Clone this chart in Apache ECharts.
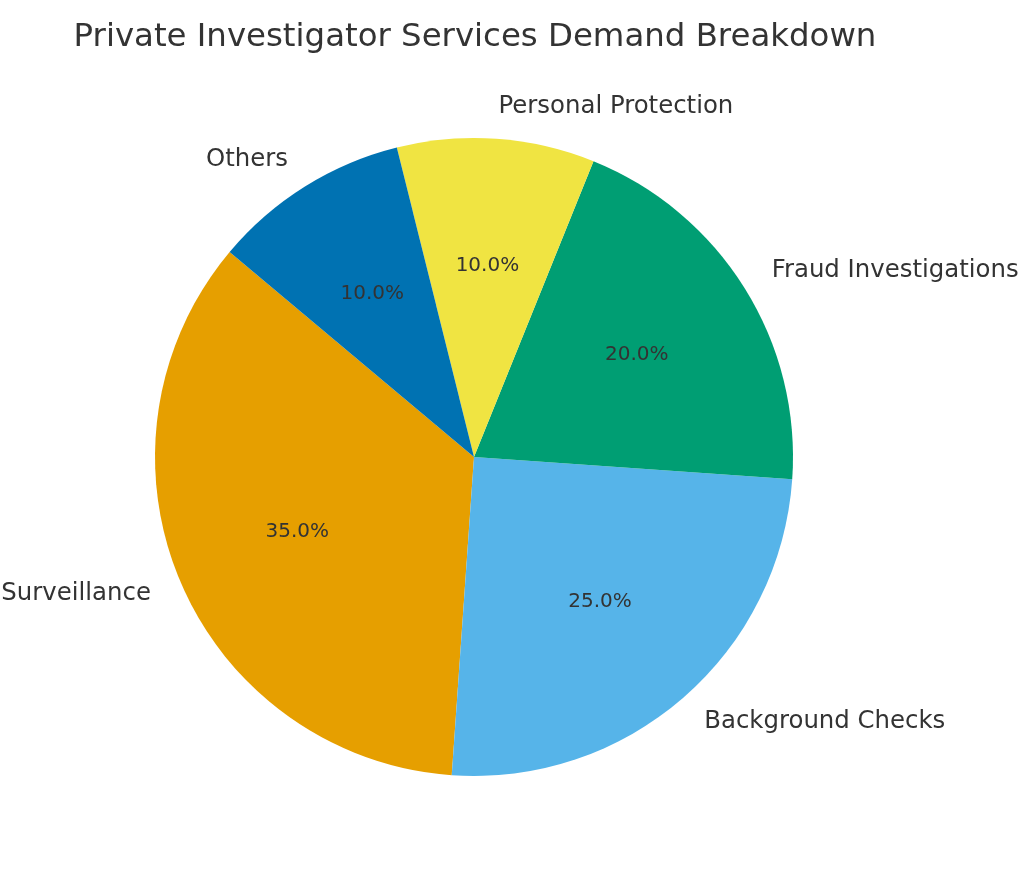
<!DOCTYPE html>
<html>
<head>
<meta charset="utf-8">
<script src="https://cdn.jsdelivr.net/npm/echarts@6/dist/echarts.min.js"></script>
<style>html,body{margin:0;padding:0;background:#fff;}#c{width:1024px;height:878px;}</style>
</head>
<body>
<div id="c"></div>
<script>
const categories = ['Surveillance', 'Background Checks', 'Fraud Investigations', 'Personal Protection', 'Others'];
const values = [35, 25, 20, 10, 10];
const colors = ['#E69F00', '#56B4E9', '#009E73', '#F0E442', '#0072B2'];
const titleText = 'Private Investigator Services Demand Breakdown';

const total = values.reduce((a, b) => a + b, 0);
const data = categories.map((c, i) => ({ name: c, value: values[i], itemStyle: { color: colors[i] } }));
const R = 319;
const center = [474, 457];

const chart = echarts.init(document.getElementById('c'), null, { renderer: 'canvas' });
chart.setOption({
  backgroundColor: '#ffffff',
  animation: false,
  title: {
    text: titleText,
    left: 470, top: 17,
    textAlign: 'center',
    textStyle: { fontFamily: 'DejaVu Sans', fontSize: 32.4, fontWeight: 'normal', color: '#333333' }
  },
  series: [
    {
      type: 'pie',
      center: center,
      radius: [0, R],
      startAngle: 140,
      clockwise: false,
      avoidLabelOverlap: false,
      data: data,
      itemStyle: { borderWidth: 0 },
      label: {
        show: true,
        position: 'outside',
        formatter: '{b}',
        fontFamily: 'DejaVu Sans',
        fontSize: 24.4,
        color: '#333333',
        alignTo: 'none',
        edgeDistance: 0,
        bleedMargin: 0,
        distanceToLabelLine: 0
      },
      labelLine: { show: false, length: 32, length2: 0 },
      emphasis: { disabled: true }
    },
    {
      type: 'pie',
      center: center,
      radius: [59, R],
      startAngle: 140,
      clockwise: false,
      avoidLabelOverlap: false,
      silent: true,
      data: data.map(d => ({ name: d.name, value: d.value, itemStyle: { color: 'rgba(0,0,0,0)' } })),
      label: {
        show: true,
        position: 'inside',
        formatter: p => (p.value / total * 100).toFixed(1) + '%',
        fontFamily: 'DejaVu Sans',
        fontSize: 20,
        color: '#333333'
      },
      labelLine: { show: false },
      emphasis: { disabled: true }
    }
  ]
});
</script>
</body>
</html>
